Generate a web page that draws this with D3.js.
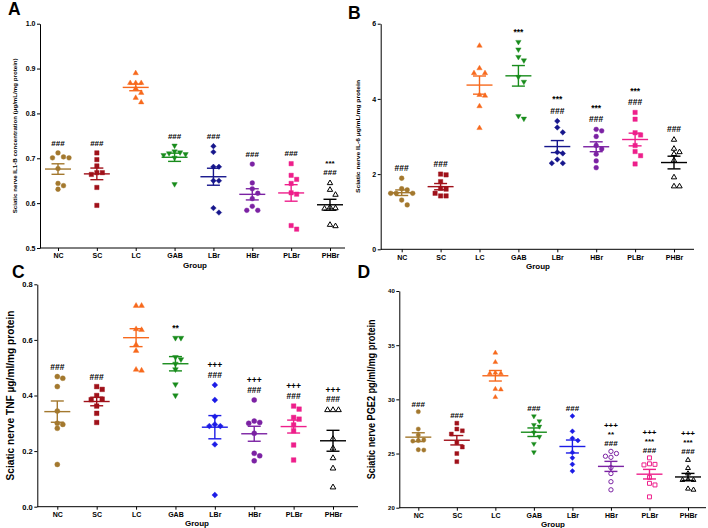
<!DOCTYPE html>
<html><head><meta charset="utf-8">
<script src="https://cdn.jsdelivr.net/npm/d3@7"></script>
<style>
body{margin:0;background:#fff}
svg{display:block}
text{font-family:"Liberation Sans",Arial,sans-serif;font-weight:bold;fill:#000}
</style>
</head><body>
<svg id="chart" width="708" height="528"></svg>
<script>
// ---------------- DATA ----------------
const groups = ["NC","SC","LC","GAB","LBr","HBr","PLBr","PHBr"];

const il1bValues = [
  [0.712, 0.703, 0.701, 0.701, 0.677, 0.644, 0.639, 0.631],
  [0.712, 0.697, 0.683, 0.668, 0.668, 0.664, 0.635, 0.595],
  [0.891, 0.869, 0.869, 0.869, 0.857, 0.847, 0.836, 0.826],
  [0.727, 0.714, 0.712, 0.710, 0.708, 0.706, 0.700, 0.641],
  [0.727, 0.714, 0.681, 0.681, 0.650, 0.650, 0.589, 0.579],
  [0.687, 0.645, 0.632, 0.622, 0.610, 0.593, 0.584, 0.584],
  [0.688, 0.662, 0.653, 0.644, 0.623, 0.620, 0.550, 0.542],
  [0.646, 0.631, 0.620, 0.592, 0.590, 0.589, 0.553, 0.550]
];
const il6Values = [
  [1.89, 1.61, 1.58, 1.49, 1.49, 1.49, 1.31, 1.18],
  [2.00, 1.98, 1.80, 1.62, 1.60, 1.49, 1.42, 1.42],
  [5.43, 4.83, 4.70, 4.70, 4.12, 4.10, 3.82, 3.24],
  [5.50, 5.30, 5.10, 5.01, 4.57, 4.44, 3.53, 3.46],
  [3.41, 3.24, 3.11, 2.58, 2.55, 2.39, 2.29, 2.29],
  [3.19, 3.15, 3.00, 2.76, 2.67, 2.53, 2.35, 2.17],
  [3.64, 3.46, 3.10, 3.04, 2.76, 2.60, 2.49, 2.27],
  [2.93, 2.69, 2.60, 2.55, 2.38, 1.93, 1.69, 1.69]
];
const tnfValues = [
  [0.468, 0.462, 0.432, 0.344, 0.300, 0.296, 0.282, 0.152],
  [0.432, 0.422, 0.400, 0.387, 0.385, 0.362, 0.336, 0.303],
  [0.725, 0.725, 0.641, 0.638, 0.585, 0.563, 0.495, 0.492],
  [0.605, 0.605, 0.536, 0.528, 0.512, 0.492, 0.438, 0.398],
  [0.438, 0.384, 0.324, 0.296, 0.290, 0.290, 0.224, 0.042],
  [0.384, 0.308, 0.303, 0.300, 0.264, 0.192, 0.183, 0.165],
  [0.362, 0.351, 0.321, 0.315, 0.294, 0.273, 0.222, 0.168],
  [0.350, 0.350, 0.350, 0.246, 0.212, 0.177, 0.140, 0.072]
];
const pge2Values = [
  [28.86, 27.26, 26.70, 26.25, 26.20, 26.15, 25.35, 25.32],
  [27.80, 27.26, 27.10, 26.80, 26.00, 25.60, 25.00, 24.25],
  [34.34, 33.48, 32.50, 32.45, 32.45, 31.00, 30.95, 30.25],
  [28.40, 27.95, 27.60, 27.45, 26.90, 26.50, 25.85, 25.08],
  [28.46, 27.05, 26.40, 26.20, 25.10, 24.60, 24.00, 23.38],
  [25.20, 25.00, 24.75, 24.65, 23.70, 23.15, 22.40, 21.65],
  [24.60, 24.05, 24.00, 23.95, 22.80, 22.25, 22.10, 21.00],
  [24.45, 23.70, 23.20, 22.65, 22.60, 22.60, 21.80, 21.70]
];

const il1bTicks = [0.5, 0.6, 0.7, 0.8, 0.9, 1.0];
const il6Ticks  = [0, 2, 4, 6];
const tnfTicks  = [0.0, 0.2, 0.4, 0.6, 0.8];
const pge2Ticks = [20, 25, 30, 35, 40];

const il1bAnnots = [["###"],["###"],[],["###"],["###"],["###"],["###"],["***","###"]];
const il6Annots  = [["###"],["###"],[],["***"],["***","###"],["***","###"],["***","###"],["###"]];
const tnfAnnots  = [["###"],["###"],[],["**"],["+++","###"],["+++","###"],["+++","###"],["+++","###"]];
const pge2Annots = [["###"],["###"],[],["###"],["###"],["+++","**","###"],["+++","***","###"],["+++","***","###"]];

const il1bTitle = "Sciatic nerve IL1-B concentration (\u00b5g/mL/mg protein)";
const il6Title  = "Sciatic nerve IL-6  \u00b5g/mL/mg protein";
const tnfTitle  = "Sciatic nerve TNF \u00b5g/ml/mg protein";
const pge2Title = "Sciatic nerve PGE2 pg/ml/mg protein";
const xTitle = "Group";

// ---------------- STYLE ----------------
const colorsDark = ["#a3782e","#a0111a","#f7691d","#188c1c","#16168c","#7b22a3","#ee1f8b","#000000"];
const colorsBright = ["#a3782e","#a0111a","#f7691d","#188c1c","#1c1ce6","#7b22a3","#ee1f8b","#000000"];
const shapesFilled = ["circle","square","up","down","diamond","circle","square","up"];
const openABC = [false,false,false,false,false,false,false,true];
const openD   = [false,false,false,false,false,true,true,true];

const panels = [
  {letter:"A", lx:8, ly:15, values:il1bValues, ticks:il1bTicks, fmt:d3.format(".1f"), annots:il1bAnnots,
   title:il1bTitle, titleX:14.5, titleFs:6.2, titleLen:155,
   yTop:23.7, yBot:248, ax:40, axEnd:345, cx0:58, cx1:330, tickFs:7, catFs:7, gx:195, gy:268,
   gap:10, lineH:9, annFs:8, colors:colorsDark, open:openABC, ms:1.0},
  {letter:"B", lx:348, ly:18.5, values:il6Values, ticks:il6Ticks, fmt:d3.format("d"), annots:il6Annots,
   title:il6Title, titleX:358, titleFs:6.2, titleLen:113,
   yTop:23.7, yBot:249.3, ax:380.7, axEnd:694, cx0:401.7, cx1:674, tickFs:7, catFs:7, gx:538, gy:268.5,
   gap:10, lineH:11.6, annFs:8.5, colors:colorsDark, open:openABC, ms:1.0},
  {letter:"C", lx:12, ly:278, values:tnfValues, ticks:tnfTicks, fmt:d3.format(".1f"), annots:tnfAnnots,
   title:tnfTitle, titleX:10, titleFs:10.5, titleLen:170,
   yTop:284.3, yBot:506.7, ax:37.3, axEnd:358, cx0:57.3, cx1:333, tickFs:7.5, catFs:7, gx:197, gy:525.6,
   gap:10, lineH:9.8, annFs:8.5, colors:colorsBright, open:openABC, ms:1.05},
  {letter:"D", lx:357.5, ly:277.5, values:pge2Values, ticks:pge2Ticks, fmt:d3.format("d"), annots:pge2Annots,
   title:pge2Title, titleX:371, titleFs:10, titleLen:160,
   yTop:291, yBot:507.7, ax:399.3, axEnd:706, cx0:418.3, cx1:688, tickFs:6, catFs:7, gx:553, gy:527,
   gap:8, lineH:9, annFs:8, colors:colorsBright, open:openD, ms:0.9}
];

// ---------------- DRAW ----------------
const svg = d3.select("#chart");

function markerPath(shape, s) {
  const p = d3.path();
  if (shape === "circle") { const r = 2.4*s; p.arc(0,0,r,0,2*Math.PI); }
  else if (shape === "square") { const a = 2.2*s; p.rect(-a,-a,2*a,2*a); }
  else if (shape === "up") { const w = 2.7*s, h = 2.5*s; p.moveTo(0,-h); p.lineTo(w,h*0.85); p.lineTo(-w,h*0.85); p.closePath(); }
  else if (shape === "down") { const w = 2.7*s, h = 2.5*s; p.moveTo(0,h); p.lineTo(w,-h*0.85); p.lineTo(-w,-h*0.85); p.closePath(); }
  else if (shape === "diamond") { const a = 2.8*s; p.moveTo(0,-a); p.lineTo(a,0); p.lineTo(0,a); p.lineTo(-a,0); p.closePath(); }
  return p.toString();
}

function swarm(ys, step, dist) {
  const placed = [];
  const offs = [0, 1, -1, 2, -2, 3, -3];
  return ys.map(y => {
    for (const o of offs) {
      const x = o*step;
      if (placed.every(q => Math.hypot(q[0]-x, q[1]-y) >= dist)) { placed.push([x,y]); return x; }
    }
    placed.push([0,y]); return 0;
  });
}

panels.forEach(P => {
  const g = svg.append("g");
  const y = d3.scaleLinear().domain([P.ticks[0], P.ticks[P.ticks.length-1]]).range([P.yBot, P.yTop]);
  const x = d3.scalePoint().domain(groups).range([P.cx0, P.cx1]);

  // y axis
  const ya = g.append("g").attr("transform", `translate(${P.ax},0)`)
    .call(d3.axisLeft(y).tickValues(P.ticks).tickFormat(P.fmt).tickSize(3).tickSizeOuter(0).tickPadding(1.5));
  ya.selectAll("text").style("font-size", P.tickFs+"px").style("font-weight","bold").style("font-family",'"Liberation Sans",Arial,sans-serif');
  ya.select(".domain").attr("stroke","#000").attr("stroke-width",1);

  // x axis
  const xa = g.append("g").attr("transform", `translate(0,${P.yBot})`)
    .call(d3.axisBottom(x).tickSize(3).tickPadding(2.5));
  xa.select(".domain").remove();
  xa.selectAll("text").style("font-size", P.catFs+"px").style("font-weight","bold").style("font-family",'"Liberation Sans",Arial,sans-serif');
  g.append("line").attr("x1", P.ax).attr("x2", P.axEnd).attr("y1", P.yBot).attr("y2", P.yBot)
    .attr("stroke","#000").attr("stroke-width",1);

  // titles
  g.append("text").attr("transform", `translate(${P.titleX},${(P.yTop+P.yBot)/2}) rotate(-90)`)
    .attr("text-anchor","middle").attr("dy","0.35em")
    .attr("textLength", P.titleLen).attr("lengthAdjust","spacingAndGlyphs")
    .style("font-size", P.titleFs+"px").text(P.title);
  g.append("text").attr("x", P.gx).attr("y", P.gy).attr("text-anchor","middle")
    .style("font-size","8px").text(xTitle);
  g.append("text").attr("x", P.lx).attr("y", P.ly).style("font-size","17.5px").text(P.letter);

  // groups
  groups.forEach((grp, i) => {
    const vals = P.values[i];
    const cx = x(grp);
    const col = P.colors[i];
    const ys = vals.map(v => y(v));
    const offs = swarm(ys, 5.5, 5);
    const isOpen = P.open[i];
    g.append("g").selectAll("path").data(vals).join("path")
      .attr("transform", (v, k) => `translate(${cx+offs[k]},${y(v)})`)
      .attr("d", markerPath(shapesFilled[i], P.ms))
      .attr("fill", isOpen ? "#fff" : col)
      .attr("stroke", col).attr("stroke-width", isOpen ? 1 : 0.4);

    const mean = d3.mean(vals);
    const sem = d3.deviation(vals) / Math.sqrt(vals.length);
    const eb = g.append("g").attr("stroke", col).attr("stroke-width", 1.4).attr("fill","none");
    eb.append("line").attr("x1", cx-13).attr("x2", cx+13).attr("y1", y(mean)).attr("y2", y(mean));
    eb.append("line").attr("x1", cx).attr("x2", cx).attr("y1", y(mean-sem)).attr("y2", y(mean+sem));
    [mean-sem, mean+sem].forEach(v => {
      eb.append("line").attr("x1", cx-6.5).attr("x2", cx+6.5).attr("y1", y(v)).attr("y2", y(v));
    });

    // annotations
    const lines = P.annots[i];
    const top = y(d3.max(vals));
    lines.forEach((t, k) => {
      const fromBottom = lines.length - 1 - k;
      g.append("text").attr("x", cx).attr("y", top - P.gap - fromBottom*P.lineH)
        .attr("dy","0.35em").attr("text-anchor","middle")
        .style("font-size", P.annFs+"px").text(t);
    });
  });
});
</script>
</body></html>
